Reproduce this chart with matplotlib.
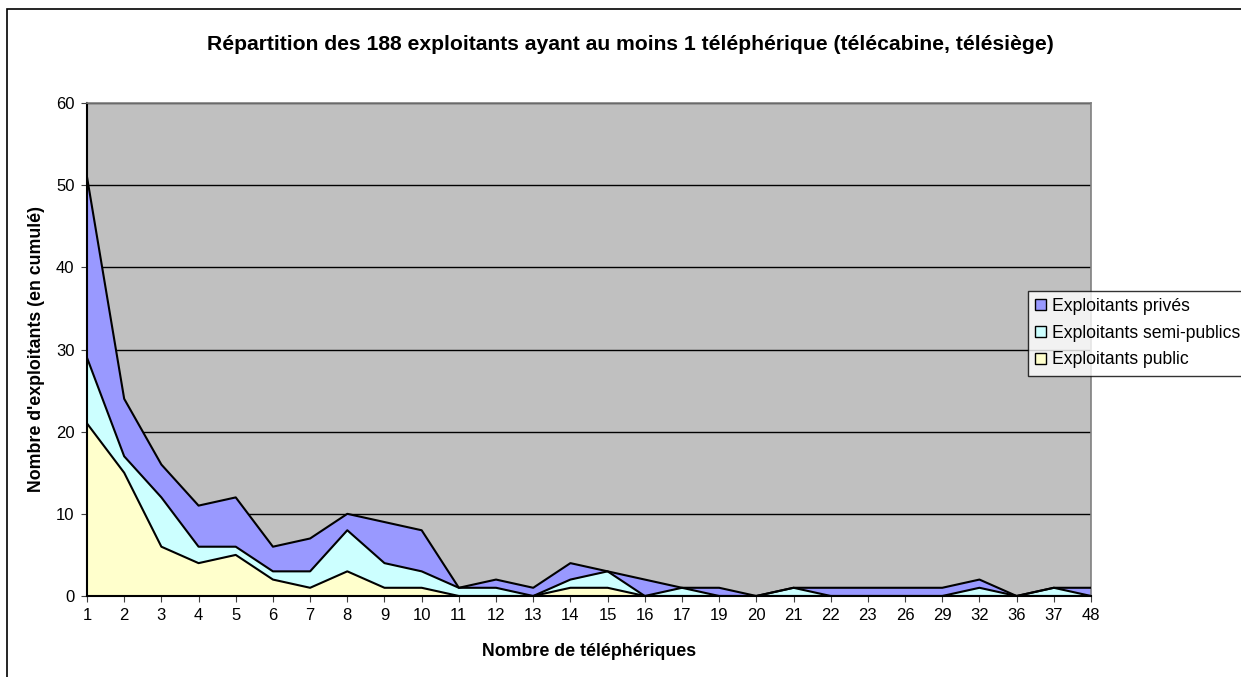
import numpy as np
import matplotlib
matplotlib.use("Agg")
import matplotlib.pyplot as plt
from matplotlib.patches import Rectangle

plt.rcParams['font.family'] = ['Liberation Sans', 'DejaVu Sans']

# nombre de telepheriques (categories)
categories = ['1', '2', '3', '4', '5', '6', '7', '8', '9', '10', '11', '12', '13', '14',
              '15', '16', '17', '19', '20', '21', '22', '23', '26', '29', '32', '36', '37', '48']

# valeurs par serie (non cumulees)
public = [21, 15, 6, 4, 5, 2, 1, 3, 1, 1, 0, 0, 0, 1, 1, 0, 0, 0, 0, 0, 0, 0, 0, 0, 0, 0, 0, 0]
semi_public = [8, 2, 6, 2, 1, 1, 2, 5, 3, 2, 1, 1, 0, 1, 2, 0, 1, 0, 0, 1, 0, 0, 0, 0, 1, 0, 1, 0]
prives = [22, 7, 4, 5, 6, 3, 4, 2, 5, 5, 0, 1, 1, 2, 0, 2, 0, 1, 0, 0, 1, 1, 1, 1, 1, 0, 0, 1]

x = np.arange(len(categories))
public = np.array(public)
semi = np.array(semi_public)
priv = np.array(prives)

fig = plt.figure(figsize=(12.41, 6.77), dpi=100)
# bordure de la zone de graphique
fig.patches.append(Rectangle((7 / 1241, -0.05), 1.1, 1 - 9 / 677 + 0.05,
                             transform=fig.transFigure, fill=False,
                             edgecolor='black', linewidth=1.2))

ax = fig.add_axes([87 / 1241, 1 - 596 / 677, (1091 - 87) / 1241, (596 - 103) / 677])
ax.set_facecolor('#C0C0C0')

c_pub = '#FFFFCC'
c_semi = '#CCFFFF'
c_priv = '#9999FF'

y1 = public
y2 = public + semi
y3 = public + semi + priv

ax.fill_between(x, y2, y3, color=c_priv, lw=0, zorder=2)
ax.fill_between(x, y1, y2, color=c_semi, lw=0, zorder=2)
ax.fill_between(x, 0, y1, color=c_pub, lw=0, zorder=2)
ax.plot(x, y3, color='black', lw=1.5, zorder=3)
ax.plot(x, y2, color='black', lw=1.5, zorder=3)
ax.plot(x, y1, color='black', lw=1.5, zorder=3)

ax.set_xlim(0, len(categories) - 1)
ax.set_ylim(0, 60)
ax.set_yticks(np.arange(0, 61, 10))
ax.set_xticks(x)
ax.set_xticklabels(categories)
ax.yaxis.grid(True, color='black', lw=1)
ax.set_axisbelow(True)
ax.tick_params(axis='both', labelsize=12, length=4, direction='out', color='#404040', pad=5)

for s in ['top', 'right']:
    ax.spines[s].set_color('#808080')
    ax.spines[s].set_linewidth(1.2)
for s in ['left', 'bottom']:
    ax.spines[s].set_color('black')
    ax.spines[s].set_linewidth(1.5)

ax.set_xlabel('Nombre de téléphériques', fontsize=12.8, fontweight='bold', labelpad=14)
ax.set_ylabel("Nombre d'exploitants (en cumulé)", fontsize=12.8, fontweight='bold', labelpad=8)

fig.text(630 / 1241, 1 - 45 / 677, 'Répartition des 188 exploitants ayant au moins 1 téléphérique (télécabine, télésiège)',
         ha='center', va='center', fontsize=15.2, fontweight='bold')

# legende
handles = [Rectangle((0, 0), 1, 1, facecolor=c, edgecolor='black', lw=1) for c in (c_priv, c_semi, c_pub)]
leg = fig.legend(handles, ['Exploitants privés', 'Exploitants semi-publics', 'Exploitants public'],
                 loc='upper left', bbox_to_anchor=(1028 / 1241, 1 - 291 / 677),
                 fontsize=12.7, frameon=True, fancybox=False, edgecolor='black',
                 handlelength=0.6, handleheight=0.6, handletextpad=0.35,
                 borderpad=0.4, labelspacing=0.55, borderaxespad=0)
leg.get_frame().set_linewidth(1)

fig.savefig('out.png', dpi=100, facecolor='white')
